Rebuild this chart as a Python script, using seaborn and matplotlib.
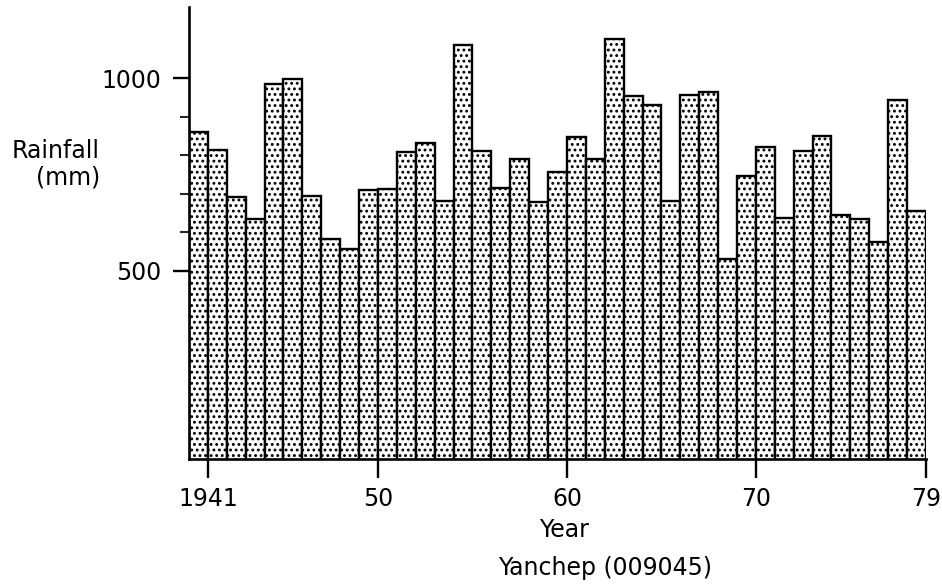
import matplotlib
matplotlib.use("Agg")
import matplotlib.pyplot as plt
from matplotlib.ticker import FixedLocator
import numpy as np
import pandas as pd
import seaborn as sns

# Annual rainfall, Yanchep (009045), 1941-1979
years = list(range(1941, 1980))
rainfall_mm = [860, 815, 693, 634, 984, 999, 694, 584, 558, 710,
               712, 810, 831, 682, 1086, 812, 715, 790, 680, 758,
               847, 791, 1101, 955, 932, 682, 956, 964, 530, 746,
               822, 637, 811, 850, 644, 634, 576, 943, 656]
tick_years = [1941, 1950, 1960, 1970, 1979]
tick_labels = ["1941", "50", "60", "70", "79"]
y_major = [500, 1000]
y_minor = [600, 700, 800, 900]

sns.set_style("ticks")
plt.rcParams["font.family"] = ["DejaVu Sans"]
plt.rcParams["hatch.linewidth"] = 1.3

df = pd.DataFrame({"year": years, "rainfall": rainfall_mm})
# each bar covers the twelve months ending at the labelled year mark
df["centre"] = df["year"] - 0.5

fig = plt.figure(figsize=(9.42, 5.85), dpi=100)
ax = fig.add_axes([0.2006, 0.2154, 0.7824, 0.7726])

sns.barplot(data=df, x="centre", y="rainfall", native_scale=True, width=1,
            color="white", edgecolor="black", linewidth=1.7, hatch="...",
            errorbar=None, ax=ax)

ax.set_xlim(years[0] - 1, years[-1])
ax.set_ylim(12, 1185)

ax.set_xticks(tick_years)
ax.set_xticklabels(tick_labels)
ax.yaxis.set_major_locator(FixedLocator(y_major))
ax.yaxis.set_minor_locator(FixedLocator(y_minor))
ax.set_yticklabels([str(v) for v in y_major])

ax.tick_params(axis="x", which="major", direction="out", length=13.5,
               width=1.7, pad=7, labelsize=17, colors="black")
ax.tick_params(axis="y", which="major", direction="out", length=11.5,
               width=1.7, pad=8.5, labelsize=17, colors="black")
ax.tick_params(axis="y", which="minor", direction="out", length=6.5,
               width=1.5)

for side in ("top", "right"):
    ax.spines[side].set_visible(False)
for side in ("left", "bottom"):
    ax.spines[side].set_linewidth(1.9)
    ax.spines[side].set_color("black")

ax.set_xlabel("")
ax.set_ylabel("")

fig.text(100 / 942, 1 - 164 / 585, "Rainfall\n(mm)", ha="right", va="center",
         multialignment="right", fontsize=17, color="black", linespacing=1.15)
fig.text(564 / 942, 1 - 530 / 585, "Year", ha="center", va="center",
         fontsize=17, color="black")
fig.text(605 / 942, 1 - 568 / 585, "Yanchep (009045)", ha="center",
         va="center", fontsize=17, color="black")

fig.savefig("out.png", dpi=100, facecolor="white")
